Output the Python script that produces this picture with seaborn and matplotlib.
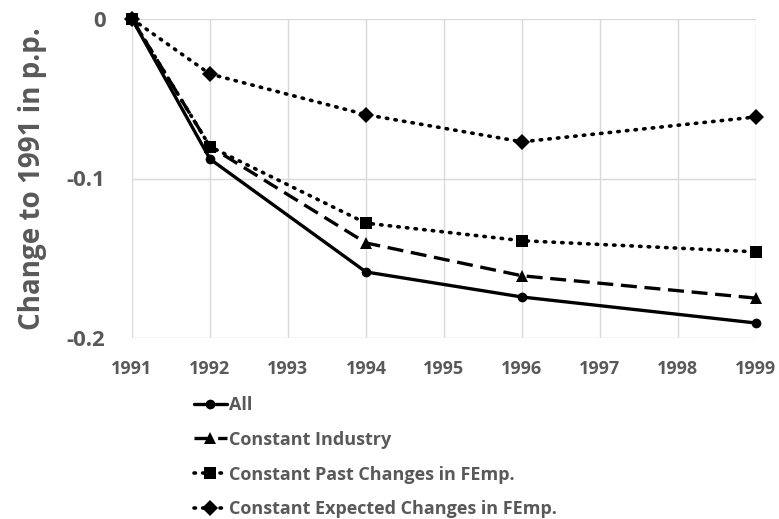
import matplotlib
matplotlib.use("Agg")
import matplotlib.pyplot as plt
import seaborn as sns
import pandas as pd

years = [1991, 1992, 1994, 1996, 1999]
all_vals = [0.0, -0.0878, -0.1586, -0.1743, -0.1906]
industry_vals = [0.0, -0.0800, -0.1404, -0.1610, -0.1750]
past_vals = [0.0, -0.0800, -0.1280, -0.1390, -0.1460]
expected_vals = [0.0, -0.0345, -0.0600, -0.0770, -0.0614]
series_names = ["All", "Constant Industry", "Constant Past Changes in FEmp.",
                "Constant Expected Changes in FEmp."]
xticks = list(range(1991, 2000))
yticks = [0, -0.1, -0.2]
ytick_labels = ["0", "-0.1", "-0.2"]

sns.set_theme(style="white")
FONT = ['Open Sans', 'DejaVu Sans']
plt.rcParams['font.family'] = FONT
grey = "#595959"

fig = plt.figure(figsize=(7.79, 5.19), dpi=100)
ax = fig.add_axes([132/779, 1-338/519, (756-132)/779, (338-19)/519])

styles = [
    dict(marker="o", ms=7, ls="-", lw=2.4),
    dict(marker="^", ms=9, ls=(0, (4.8, 2.3)), lw=2.4),
    dict(marker="s", ms=9, ls=(0, (0.4, 2.0)), lw=2.6, dash_capstyle="round"),
    dict(marker="D", ms=8, ls=(0, (0.4, 2.0)), lw=2.6, dash_capstyle="round"),
]
vals = [all_vals, industry_vals, past_vals, expected_vals]
for name, v, st in zip(series_names, vals, styles):
    df = pd.DataFrame({"year": years, "value": v})
    sns.lineplot(data=df, x="year", y="value", ax=ax, color="black",
                 label=name, markeredgewidth=0, **st)

ax.set_xlim(1991, 1999)
ax.set_ylim(-0.2, 0)
ax.set_xticks(xticks)
ax.set_xticklabels([str(x) for x in xticks], fontsize=13, fontweight="bold", color=grey)
ax.set_yticks(yticks)
ax.set_yticklabels(ytick_labels, fontsize=16, fontweight="bold", color=grey)
ax.tick_params(axis="x", length=0, pad=16)
ax.tick_params(axis="y", length=0, pad=19)
ax.grid(True, color="#d9d9d9", lw=1)
for s in ax.spines.values():
    s.set_visible(False)
ax.set_xlabel("")
ax.set_ylabel("Change to 1991 in p.p.", fontsize=20, fontweight="bold", color=grey, labelpad=14)
for line in ax.get_lines():
    line.set_clip_on(False)

ax.legend(loc="upper left", bbox_to_anchor=(194/779, 1-396/519),
          bbox_transform=fig.transFigure, frameon=False, ncol=1,
          handlelength=1.8, handletextpad=0.15, labelspacing=0.93,
          prop={"family": FONT, "weight": "bold", "size": 13},
          labelcolor=grey, borderpad=0, borderaxespad=0)

fig.savefig("out.png", dpi=100)
